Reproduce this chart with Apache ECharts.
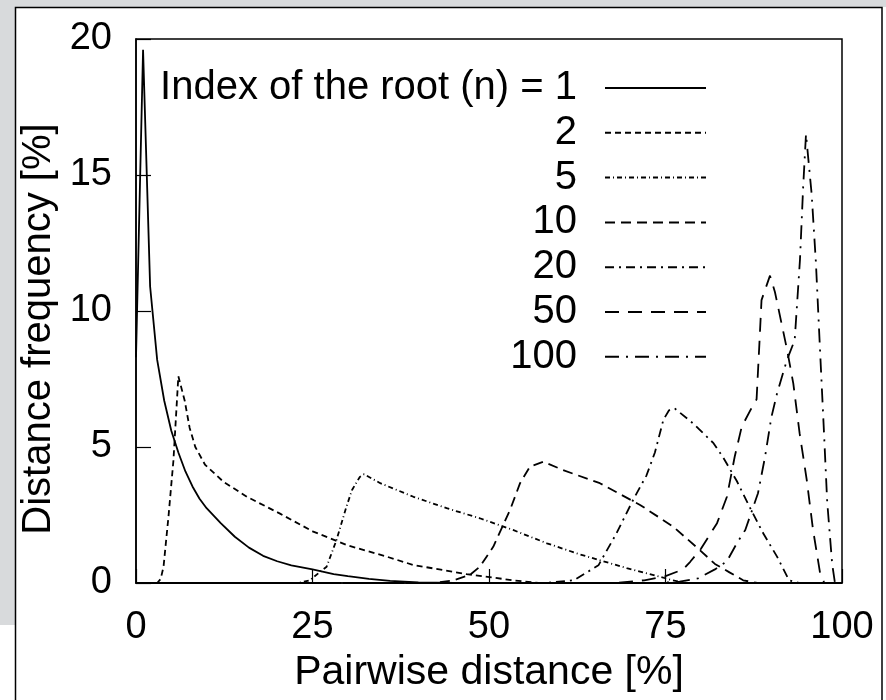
<!DOCTYPE html>
<html>
<head>
<meta charset="utf-8">
<script src="https://cdn.jsdelivr.net/npm/echarts@6/dist/echarts.min.js"></script>
<style>
html,body{margin:0;padding:0;background:#fff;}
#chart{width:886px;height:700px;}
</style>
</head>
<body>
<div id="chart"></div>
<script>
// Series names (index of the root n)
const seriesNames = ['1', '2', '5', '10', '20', '50', '100'];
const legendPrefix = 'Index of the root (n) = ';

// Axis ticks
const xTicks = [0, 25, 50, 75, 100];
const yTicks = [0, 5, 10, 15, 20];

// [pairwise distance %, distance frequency %]
const n1 = [[0,8.3],[1,19.6],[2,10.9],[3,8.2],[4,6.7],[5,5.6],[6,4.8],[7,4.1],[8,3.55],[9,3.1],[10,2.75],[12,2.2],[14,1.7],[16,1.3],[18,1.0],[20,0.8],[22,0.65],[25,0.5],[28,0.33],[30,0.25],[33,0.15],[36,0.08],[40,0.02],[45,0],[100,0]];
const n2 = [[0,0],[3,0],[3.5,0.15],[3.9,0.6],[4.6,2.44],[5.3,4.5],[6.0,7.6],[6.9,6.7],[7.6,5.7],[8.4,5.0],[9.8,4.34],[12.4,3.72],[15.7,3.17],[20.4,2.55],[25.1,1.89],[28.4,1.55],[30,1.38],[35.5,0.97],[39.3,0.66],[46.8,0.33],[53.4,0.1],[57,0],[100,0]];
const n5 = [[0,0],[23,0],[24.6,0.1],[27.0,0.6],[28.4,1.58],[29.8,2.8],[30.6,3.42],[31.7,3.9],[32.3,4.0],[34.6,3.67],[39.3,3.17],[44,2.75],[48.7,2.38],[53.4,1.95],[58.2,1.46],[62.9,1.05],[65.5,0.85],[69.5,0.55],[74.2,0.23],[76,0.1],[78,0],[100,0]];
const n10 = [[0,0],[42,0],[45,0.1],[47.3,0.3],[48.7,0.6],[50.6,1.33],[53,2.7],[54.4,3.67],[55.8,4.28],[57.7,4.46],[60.5,4.15],[65.7,3.67],[71.4,2.87],[76.1,2.07],[79.9,1.2],[82,0.7],[84,0.4],[86,0.1],[88,0],[100,0]];
const n20 = [[0,0],[58,0],[62,0.1],[65.5,0.65],[68,1.8],[70.5,3.1],[72.3,3.95],[73.5,4.8],[74.7,6.0],[75.5,6.35],[76.3,6.42],[78.9,5.87],[81.8,5.14],[83.2,4.6],[85.1,3.75],[87,2.75],[88.9,1.8],[90.8,0.97],[92.5,0.1],[94,0],[100,0]];
const n50 = [[0,0],[68,0],[72,0.1],[75,0.25],[77.5,0.5],[78.5,0.78],[80,1.25],[82.3,2.2],[83.7,3.17],[84.8,4.64],[85.8,5.75],[87.4,6.54],[87.9,6.75],[88.3,8.8],[88.6,10.4],[89.8,11.3],[90.5,10.7],[92.2,8.6],[93.1,7.34],[94.0,5.5],[95.0,3.8],[95.9,1.95],[96.9,0.36],[97.5,0],[100,0]];
const n100 = [[0,0],[74,0],[77,0.05],[79.6,0.17],[82,0.5],[83.7,0.8],[85.1,1.46],[86.3,1.95],[88.1,3.3],[89.1,4.64],[90.0,6.1],[90.8,6.97],[92.2,8.2],[93.3,8.93],[94.05,11.9],[94.5,14.57],[94.9,16.5],[95.7,14.3],[96.3,11.8],[96.9,8.5],[97.4,5.8],[97.9,3.0],[98.6,0.72],[99,0],[100,0]];

const seriesData = [n1, n2, n5, n10, n20, n50, n100];
const dashes = ['solid', [6,4], [5,3,1,3], [10,6], [9,5,2,5], [14,9], [14,7,2,7]];

const FONT = "'Liberation Sans', Arial, Helvetica, sans-serif";
const chart = echarts.init(document.getElementById('chart'), null, {renderer: 'canvas'});

const series = seriesNames.map((nm, i) => ({
  name: nm,
  type: 'line',
  data: seriesData[i],
  showSymbol: false,
  symbol: 'none',
  smooth: false,
  lineStyle: {color: '#000', width: 1.8, type: dashes[i]},
  itemStyle: {color: '#000'},
  z: 3
}));

chart.setOption({
  backgroundColor: '#fff',
  animation: false,
  graphic: [
    {type: 'rect', shape: {x: 0, y: 0, width: 886, height: 7}, style: {fill: '#d8dadc'}, z: -10},
    {type: 'rect', shape: {x: 0, y: 0, width: 15, height: 625}, style: {fill: '#d8dadc'}, z: -10},
    {type: 'rect', shape: {x: 15.5, y: 7.5, width: 866.5, height: 710}, style: {fill: 'none', stroke: '#000', lineWidth: 1.5}, z: -5}
  ],
  grid: {left: 136, right: 44, top: 39, bottom: 117, show: true, borderColor: '#000', borderWidth: 1.5, backgroundColor: 'transparent'},
  legend: {
    orient: 'vertical',
    align: 'right',
    right: 179,
    top: 68,
    padding: 0,
    itemWidth: 101,
    itemHeight: 40,
    itemGap: 4.8,
    selectedMode: false,
    itemStyle: {color: 'rgba(0,0,0,0)', borderWidth: 0, opacity: 0},
    data: seriesNames.map((nm, i) => ({name: nm, lineStyle: {type: dashes[i], width: 2, color: '#000', opacity: 1}})),
    formatter: (nm) => (nm === seriesNames[0] ? legendPrefix + nm : nm),
    textStyle: {fontFamily: FONT, fontSize: 40, color: '#000', lineHeight: 40, padding: [0, 23, 0, 0]}
  },
  xAxis: {
    type: 'value', min: xTicks[0], max: xTicks[xTicks.length - 1], interval: 25,
    name: 'Pairwise distance [%]', nameLocation: 'middle', nameGap: 64,
    nameTextStyle: {fontFamily: FONT, fontSize: 41, color: '#000'},
    axisLine: {show: true, lineStyle: {color: '#000', width: 1.5}},
    axisTick: {show: true, inside: true, length: 14, lineStyle: {color: '#000', width: 1.2}},
    axisLabel: {fontFamily: FONT, fontSize: 38, color: '#000', margin: 26},
    splitLine: {show: false}
  },
  yAxis: {
    type: 'value', min: yTicks[0], max: yTicks[yTicks.length - 1], interval: 5,
    name: 'Distance frequency [%]', nameLocation: 'middle', nameGap: 76, nameRotate: 90,
    nameTextStyle: {fontFamily: FONT, fontSize: 40, color: '#000', padding: [0, 36, 0, 0]},
    axisLine: {show: true, lineStyle: {color: '#000', width: 1.5}},
    axisTick: {show: true, inside: true, length: 15, lineStyle: {color: '#000', width: 1.2}},
    axisLabel: {fontFamily: FONT, fontSize: 38, color: '#000', margin: 24},
    splitLine: {show: false}
  },
  series: series
});
</script>
</body>
</html>
